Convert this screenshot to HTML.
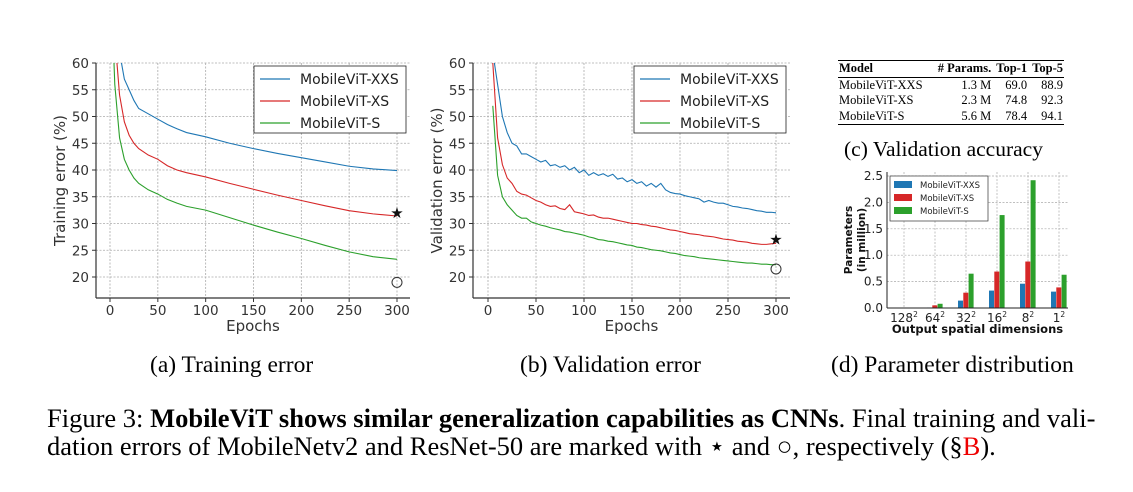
<!DOCTYPE html>
<html><head><meta charset="utf-8"><style>
body{margin:0;background:#fff;width:1133px;height:492px;overflow:hidden;position:relative;font-family:"Liberation Serif",serif}
.cap{position:absolute;font-size:23.5px;color:#000;white-space:nowrap}
svg text{font-family:"DejaVu Sans",sans-serif}
</style></head><body>
<svg id="s" width="1133" height="492" style="position:absolute;left:0;top:0"></svg>
<div class="cap" style="left:150px;top:352px">(a) Training error</div>
<div class="cap" style="left:520px;top:352px">(b) Validation error</div>
<div class="cap" style="left:831px;top:352px">(d) Parameter distribution</div>
<div class="cap" style="left:844px;top:137px;font-size:21.5px">(c) Validation accuracy</div>
<div class="cap" style="left:47px;top:403px;font-size:26.5px">Figure 3: <b>MobileViT shows similar generalization capabilities as CNNs</b>. Final training and vali-</div>
<div class="cap" style="left:47px;top:431px;font-size:26.5px">dation errors of MobileNetv2 and ResNet-50 are marked with ⋆ and ○, respectively (§<span style="color:#e00">B</span>).</div>
<div style="position:absolute;left:838px;top:60px;width:226px;font-size:12.5px;font-family:'Liberation Serif',serif">
<table style="border-collapse:collapse;width:100%;border-top:1.5px solid #000;border-bottom:1.5px solid #000;line-height:13.5px">
<tr style="border-bottom:1px solid #000;font-weight:bold"><td>Model</td><td style="text-align:right"># Params.</td><td style="text-align:right">Top-1</td><td style="text-align:right">Top-5</td></tr>
<tr><td>MobileViT-XXS</td><td style="text-align:right">1.3 M</td><td style="text-align:right">69.0</td><td style="text-align:right">88.9</td></tr>
<tr><td>MobileViT-XS</td><td style="text-align:right">2.3 M</td><td style="text-align:right">74.8</td><td style="text-align:right">92.3</td></tr>
<tr><td>MobileViT-S</td><td style="text-align:right">5.6 M</td><td style="text-align:right">78.4</td><td style="text-align:right">94.1</td></tr>
</table></div>
<script>
const seriesNames=["MobileViT-XXS","MobileViT-XS","MobileViT-S"];
const colors=["#1f77b4","#d62728","#2ca02c"];
const trainEpochs=[0,5,10,15,20,25,30,40,50,60,70,80,100,125,150,175,200,225,250,275,300];
const trainXXS=[90,75,62,57,55,53,51.5,50.5,49.5,48.5,47.7,47,46.2,45,44,43.1,42.3,41.5,40.7,40.2,39.9];
const trainXS=[85,65,54,49,46.5,45,44,42.8,42,40.8,40,39.5,38.7,37.5,36.4,35.3,34.3,33.3,32.4,31.8,31.4];
const trainS=[80,56,46,42,40,38.5,37.5,36.3,35.5,34.5,33.8,33.2,32.5,31.1,29.7,28.4,27.2,25.9,24.7,23.8,23.3];
const valEpochs=[5,10,15,20,25,30,35,40,45,50,55,60,65,70,75,80,85,90,95,100,105,110,115,120,125,130,135,140,145,150,155,160,165,170,175,180,185,190,195,200,205,210,215,220,225,230,235,240,245,250,255,260,265,270,275,280,285,290,295,300];
const valXXS=[62,56,50,47,45,44.5,43,43,42.5,42,41.5,41.8,40.8,41,40.5,40.8,40,40.5,39.5,40,39,39.5,39,39.3,38.8,39.2,38.3,38.5,37.8,38.2,37.5,37.8,37,37.5,36.8,37.5,36.3,35.8,35.6,35.5,35.2,35,34.8,34.6,34,34.3,34,33.8,33.8,33.5,33.2,33.1,32.9,32.8,32.6,32.4,32.3,32.1,32.1,32];
const valXS=[60,46,41,38.5,37.5,36,35.5,35.3,34.8,34.3,34,33.5,33.2,33.3,32.8,32.6,33.5,32.2,32,31.8,31.5,31.6,31.2,31,31,30.8,30.6,30.4,30.2,30,30,29.8,29.7,29.5,29.4,29.2,29,28.8,28.7,28.5,28.3,28.1,28,27.9,27.7,27.6,27.5,27.3,27.1,27,26.9,26.7,26.6,26.5,26.3,26.2,26.1,26.1,26.2,26.3];
const valS=[52,39,35,33.5,32.5,31.5,31,31,30.3,30,29.7,29.5,29.2,29,28.8,28.5,28.4,28.2,28,27.8,27.5,27.3,27,26.9,26.7,26.6,26.4,26.2,26,25.9,25.6,25.5,25.3,25.1,25,24.9,24.7,24.5,24.4,24.2,24,23.9,23.8,23.6,23.5,23.4,23.3,23.2,23.1,23,22.9,22.8,22.7,22.6,22.6,22.5,22.4,22.4,22.3,22.3];
const xTicks=[0,50,100,150,200,250,300];
const yTicks=[20,25,30,35,40,45,50,55,60];
const markerTrain={star:32,circle:19};
const markerVal={star:27,circle:21.5};
const barCats=["128","64","32","16","8","1"];
const barXXS=[0,0.01,0.14,0.33,0.46,0.31];
const barXS=[0,0.05,0.29,0.69,0.88,0.39];
const barS=[0,0.08,0.65,1.76,2.42,0.63];
const barYTicks=[0,0.5,1.0,1.5,2.0,2.5];

const S=document.getElementById('s');const NS='http://www.w3.org/2000/svg';
function el(t,a,p){const e=document.createElementNS(NS,t);for(const k in a)e.setAttribute(k,a[k]);(p||S).appendChild(e);return e;}
function txt(x,y,s,a,p){const e=el('text',Object.assign({x:x,y:y},a),p);e.textContent=s;return e;}

function lineChart(id,L,R,x0,x300,yLabel,series,epochsArr,mk){
  const T=63,B=298;
  const X=v=>x0+(x300-x0)*v/300, Y=v=>277-(v-20)*(277-63)/40;
  const g=el('g',{});
  
  const cp=el('clipPath',{id:'c'+id},g);el('rect',{x:L,y:T,width:R-L,height:B-T},cp);
  xTicks.forEach(t=>{const l=el('line',{x1:X(t),x2:X(t),y1:T,y2:B,stroke:'#aaa','stroke-dasharray':'2,1.5','stroke-width':0.8},g);
    
    el('line',{x1:X(t),x2:X(t),y1:B,y2:B+4,stroke:'#333'},g);
    const e=txt(X(t),B+17,String(t),{'font-size':13.5,'text-anchor':'middle',fill:'#333'},g);});
  yTicks.forEach(t=>{const l=el('line',{x1:L,x2:R,y1:Y(t),y2:Y(t),stroke:'#aaa','stroke-dasharray':'2,1.5','stroke-width':0.8},g);
    
    el('line',{x1:L-4,x2:L,y1:Y(t),y2:Y(t),stroke:'#333'},g);
    const e=txt(L-7,Y(t)+5,String(t),{'font-size':13.5,'text-anchor':'end',fill:'#333'},g);});
  series.forEach((s,i)=>{const p=el('polyline',{points:epochsArr.map((e,j)=>X(e)+','+Y(s[j])).join(' '),fill:'none',stroke:colors[i],'stroke-width':1.1,'clip-path':'url(#c'+id+')'},g);
    });
  el('line',{x1:L,x2:L,y1:T,y2:B,stroke:'#333','stroke-width':1.2},g);
  el('line',{x1:L,x2:R,y1:B,y2:B,stroke:'#333','stroke-width':1.2},g);
  const st=txt(X(300),Y(mk.star)+5,'★',{'font-size':15,'text-anchor':'middle',fill:'#111'},g);
  const c=el('circle',{cx:X(300),cy:Y(mk.circle),r:5,fill:'none',stroke:'#333'},g);
  const xl=txt((L+R)/2,B+33,'Epochs',{'font-size':15,'text-anchor':'middle',fill:'#333'},g);
  const yl=txt(0,0,yLabel,{'font-size':15,'text-anchor':'middle',fill:'#333',transform:'translate('+(L-31)+','+((T+B)/2)+') rotate(-90)'},g);
  const lx=R-156,lg=el('g',{},g);
  el('rect',{x:lx,y:66,width:152,height:67,fill:'#fff',stroke:'#222','stroke-width':0.8},lg);
  seriesNames.forEach((n,i)=>{const yy=79+i*22;el('line',{x1:lx+6,x2:lx+36,y1:yy,y2:yy,stroke:colors[i],'stroke-width':1.3},lg);
    const e=txt(lx+46,yy+5,n,{'font-size':14,fill:'#222'},lg);});
}
lineChart('train',96,410,110,397,'Training error (%)',[trainXXS,trainXS,trainS],trainEpochs,markerTrain);
lineChart('val',473,790,488,776,'Validation error (%)',[valXXS,valXS,valS],valEpochs,markerVal);

(function(){
  const L=887,R=1068,T=172,B=308,X=i=>904+i*31,Y=v=>B-v*(308-176)/2.5;
  const g=el('g',{});
  barCats.forEach((c,i)=>{el('line',{x1:X(i),x2:X(i),y1:T,y2:B,stroke:'#aaa','stroke-dasharray':'2,1.5','stroke-width':0.7},g);
    const e=txt(X(i),B+14,c,{'font-size':12,'text-anchor':'middle',fill:'#222'},g);const sp=el('tspan',{dy:-5,'font-size':7.5},e);sp.textContent='2';
    });
  barYTicks.forEach(t=>{el('line',{x1:L,x2:R,y1:Y(t),y2:Y(t),stroke:'#aaa','stroke-dasharray':'2,1.5','stroke-width':0.7},g);
    const e=txt(L-4,Y(t)+4,t.toFixed(1),{'font-size':12,'text-anchor':'end',fill:'#222'},g);});
  [barXXS,barXS,barS].forEach((arr,k)=>arr.forEach((v,i)=>{const r=el('rect',{x:X(i)-8+k*5.3,y:Y(v),width:5,height:B-Y(v),fill:colors[k]},g);
    }));
  el('line',{x1:L,x2:L,y1:T,y2:B,stroke:'#222'},g);el('line',{x1:L,x2:R,y1:B,y2:B,stroke:'#222'},g);
  const lg=el('g',{},g);
  el('rect',{x:890,y:176,width:98,height:45,fill:'#fff',stroke:'#333','stroke-width':0.7},lg);
  seriesNames.forEach((n,i)=>{const yy=185+i*13;el('rect',{x:894,y:yy-4,width:18,height:7,fill:colors[i]},lg);
    const e=txt(920,yy+3,n,{'font-size':8.5,fill:'#222'},lg);});
  const xl=txt((L+R)/2,333,'Output spatial dimensions',{'font-size':11.5,'font-weight':'bold','text-anchor':'middle',fill:'#111'},g);
  const yl=txt(0,0,'Parameters',{'font-size':10.5,'font-weight':'bold','text-anchor':'middle',fill:'#111',transform:'translate(852,240) rotate(-90)'},g);
  const y2=txt(0,0,'(in million)',{'font-size':10.5,'font-weight':'bold','text-anchor':'middle',fill:'#111',transform:'translate(865,240) rotate(-90)'},g);
})();
</script>
</body></html>
